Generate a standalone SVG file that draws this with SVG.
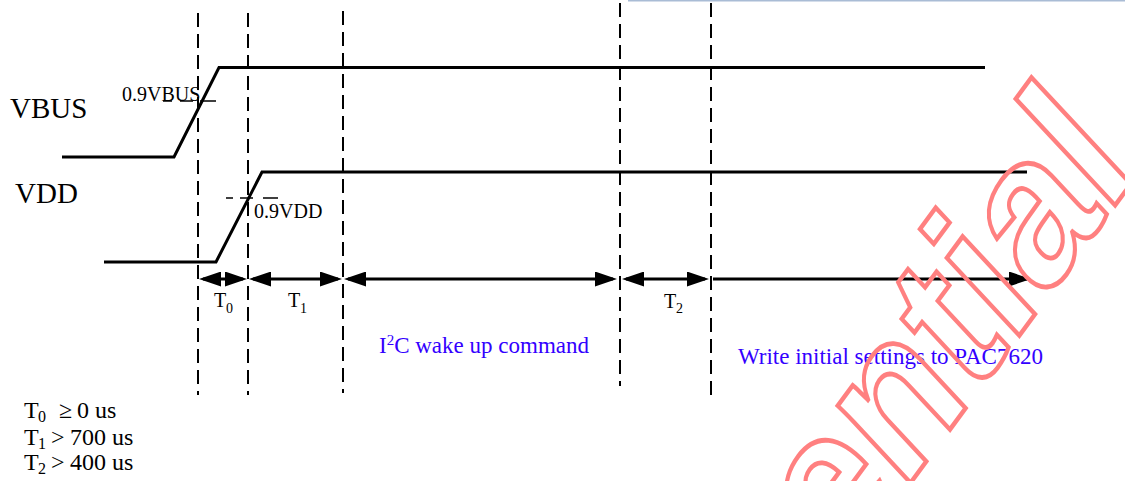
<svg xmlns="http://www.w3.org/2000/svg" width="1125" height="481" viewBox="0 0 1125 481">
  <defs>
    <marker id="ah" markerUnits="userSpaceOnUse" markerWidth="22" markerHeight="15" refX="18" refY="7.5" orient="auto-start-reverse" viewBox="0 0 22 15">
      <path d="M0,0 L22,7.5 L0,15 z" fill="#000"/>
    </marker>
    <style>
      .sig{fill:none;stroke:#000;stroke-width:3;stroke-linejoin:miter}
      .vdash{fill:none;stroke:#000;stroke-width:2;stroke-dasharray:14 7}
      .thr{fill:none;stroke:#000;stroke-width:1.5}
      .arr{fill:none;stroke:#000;stroke-width:3}
      .serif{font-family:"Liberation Serif","Times New Roman",serif;fill:#000}
      .blue{font-family:"Liberation Serif","Times New Roman",serif;fill:#3300ff;font-size:23px}
      .wm{font-family:"Liberation Sans",Arial,sans-serif;font-weight:bold;font-size:200px;fill:none;stroke:#ff8080;stroke-width:4.5}
    </style>
  </defs>
  <rect width="1125" height="481" fill="#fff"/>
  <line x1="628" y1="0.7" x2="1125" y2="0.7" stroke="#a9bcd5" stroke-width="1.5"/>

  <g id="gridlines">
    <line class="vdash" x1="198" y1="13" x2="198" y2="395"/>
    <line class="vdash" x1="248" y1="13" x2="248" y2="395"/>
    <line class="vdash" x1="343" y1="11" x2="343" y2="393"/>
    <line class="vdash" x1="620" y1="3" x2="620" y2="386"/>
    <line class="vdash" x1="711" y1="3" x2="711" y2="395"/>
  </g>

  <g id="vbus">
    <polyline class="sig" points="62,157 174,157 219,67.5 985,67.5"/>
    <path class="thr" d="M163,101 H172 M180,101 H193 M200,101 H216"/>
    <text class="serif" x="10" y="118" font-size="29">VBUS</text>
    <text class="serif" x="122" y="101" font-size="20">0.9VBUS</text>
  </g>

  <g id="vdd">
    <polyline class="sig" points="104,262 216,262 262,172 1027,172"/>
    <path class="thr" d="M226,198 H233 M240,198 H253 M263,198 H278"/>
    <text class="serif" x="15" y="203" font-size="29">VDD</text>
    <text class="serif" x="254" y="218" font-size="20">0.9VDD</text>
  </g>

  <g id="connectors">
    <line class="arr" x1="203" y1="279" x2="243" y2="279" marker-start="url(#ah)" marker-end="url(#ah)"/>
    <line class="arr" x1="253" y1="279" x2="338" y2="279" marker-start="url(#ah)" marker-end="url(#ah)"/>
    <line class="arr" x1="348" y1="279" x2="613" y2="279" marker-start="url(#ah)" marker-end="url(#ah)"/>
    <line class="arr" x1="626" y1="279" x2="705" y2="279" marker-start="url(#ah)" marker-end="url(#ah)"/>
    <line class="arr" x1="713" y1="279" x2="1027" y2="279" marker-end="url(#ah)"/>
  </g>

  <g id="t0-label">
    <text class="serif" font-size="20"><tspan x="214" y="307">T</tspan><tspan x="226" y="313" font-size="14">0</tspan></text>
  </g>
  <g id="t1-label">
    <text class="serif" font-size="20"><tspan x="288" y="307">T</tspan><tspan x="300" y="313" font-size="14">1</tspan></text>
  </g>
  <g id="t2-label">
    <text class="serif" font-size="20"><tspan x="664" y="308">T</tspan><tspan x="676" y="313" font-size="14">2</tspan></text>
  </g>

  <g id="i2c-label">
    <text class="blue" x="379" y="353">I<tspan font-size="15" dy="-8">2</tspan><tspan dy="8">C wake up command</tspan></text>
  </g>
  <g id="write-label">
    <text class="blue" x="738" y="364">Write initial settings to PAC7620</text>
  </g>

  <g id="legend" class="serif" font-size="24">
    <text><tspan x="24" y="418">T</tspan><tspan x="38" y="422" font-size="16">0</tspan><tspan x="59" y="418">≥</tspan><tspan x="77" y="418">0 us</tspan></text>
    <text><tspan x="24" y="445">T</tspan><tspan x="38" y="449" font-size="16">1</tspan><tspan x="51" y="445">&gt;</tspan><tspan x="70" y="445">700 us</tspan></text>
    <text><tspan x="24" y="470">T</tspan><tspan x="38" y="474" font-size="16">2</tspan><tspan x="51" y="470">&gt;</tspan><tspan x="70" y="470">400 us</tspan></text>
  </g>

  <g id="watermark">
    <text class="wm" text-anchor="end" transform="matrix(0.575 -0.78 0.685 0.735 1139 173)">Confidential</text>
  </g>
</svg>
